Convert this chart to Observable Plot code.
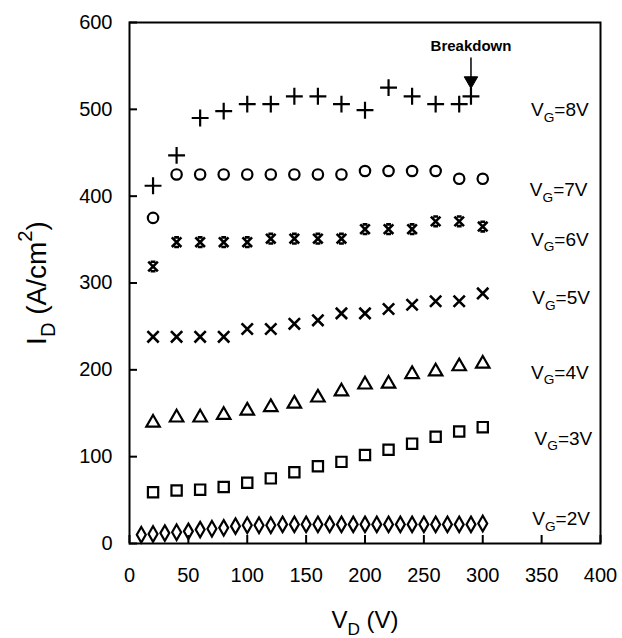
<!DOCTYPE html>
<html>
<head>
<meta charset="utf-8">
<script src="https://cdn.jsdelivr.net/npm/d3@7"></script>
<script src="https://cdn.jsdelivr.net/npm/@observablehq/plot@0.6"></script>
<style>
  body { margin: 0; background: #fff; }
  #chart { width: 622px; height: 638px; }
</style>
</head>
<body>
<div id="chart"></div>
<script>
// ---- data ----
const vd15 = [20, 40, 60, 80, 100, 120, 140, 160, 180, 200, 220, 240, 260, 280, 300];
const vd8  = [20, 40, 60, 80, 100, 120, 140, 160, 180, 200, 220, 240, 260, 280, 290];
const vd2  = [10, 20, 30, 40, 50, 60, 70, 80, 90, 100, 110, 120, 130, 140, 150,
              160, 170, 180, 190, 200, 210, 220, 230, 240, 250, 260, 270, 280, 290, 300];

const id8 = [412, 447, 490, 498, 506, 506, 515, 515, 506, 499, 525, 515, 506, 506, 515];
const id7 = [375, 425, 425, 425, 425, 425, 425, 425, 425, 429, 429, 429, 429, 420, 420];
const id6 = [319, 347, 347, 347, 347, 351, 351, 351, 351, 362, 362, 362, 371, 371, 365];
const id5 = [238, 238, 238, 238, 247, 247, 253, 257, 265, 265, 270, 275, 279, 279, 288];
const id4 = [139, 145, 145, 148, 153, 157, 161, 168, 175, 183, 184, 195, 198, 204, 207];
const id3 = [59, 61, 62, 65, 70, 75, 82, 89, 94, 102, 108, 115, 123, 129, 134];
const id2 = [10, 11, 12, 13, 14, 16, 17, 18, 20, 21, 21, 21, 22, 22, 22,
             22, 22, 22, 22, 22, 22, 22, 22, 22, 22, 22, 22, 22, 22, 23];

const vgLabels = ["V_{G}=8V", "V_{G}=7V", "V_{G}=6V", "V_{G}=5V", "V_{G}=4V", "V_{G}=3V", "V_{G}=2V"];
const vgLabelY = [499, 407, 350, 283, 197, 121, 28];
const vgLabelX = [341, 340, 341, 342, 341, 344, 342];

const xTicks = [0, 50, 100, 150, 200, 250, 300, 350, 400];
const yTicks = [0, 100, 200, 300, 400, 500, 600];

const breakdownText = ["Breakdown"];
const breakdownX = [290];
const breakdownTextY = [573];
const breakdownArrowTop = [559];
const breakdownArrowHead = [533];

const xTitle = "V_{D} (V)";
const yTitle = "I_{D} (A/cm^{2})";

// ---- layout ----
const W = 622, H = 638, ML = 129, MR = 22, MT = 22, MB = 95;
const xDomain = [0, 400], yDomain = [0, 600];
const tickLen = 8; // px
// tick length expressed in data units of each scale
const tickLenX = tickLen * (xDomain[1] - xDomain[0]) / (W - ML - MR);
const tickLenY = tickLen * (yDomain[1] - yDomain[0]) / (H - MT - MB);

// ---- helpers ----
const pts = (xs, ys) => xs.map((x, i) => ({x, y: ys[i]}));
const lab = vgLabels.map((t, i) => ({t, x: vgLabelX[i], y: vgLabelY[i]}));
const bd = breakdownText.map((t, i) => ({t, x: breakdownX[i], ty: breakdownTextY[i], y1: breakdownArrowTop[i], y2: breakdownArrowHead[i]}));
const xTickData = xTicks.map(v => ({v, a: yDomain[0], b: yDomain[0] + tickLenY}));
const yTickData = yTicks.map(v => ({v, a: xDomain[0], b: xDomain[0] + tickLenX}));

// bold X with short horizontal caps (6V marker)
const cappedX = {
  draw(ctx, size) {
    const r = Math.sqrt(size / Math.PI);
    ctx.moveTo(-r, -r); ctx.lineTo(r, r);
    ctx.moveTo(-r, r); ctx.lineTo(r, -r);
    ctx.moveTo(-r * 0.5, -r); ctx.lineTo(r * 0.5, -r);
    ctx.moveTo(-r * 0.5, r); ctx.lineTo(r * 0.5, r);
  }
};

const sw = 2.2;
const font = "'Liberation Sans', Arial, Helvetica, sans-serif";

const chart = Plot.plot({
  width: W,
  height: H,
  marginLeft: ML,
  marginRight: MR,
  marginTop: MT,
  marginBottom: MB,
  style: {fontFamily: font, fontSize: "20px", color: "black", background: "white"},
  x: {domain: xDomain},
  y: {domain: yDomain},
  marks: [
    Plot.frame({stroke: "black", strokeWidth: 2}),
    // tick labels
    Plot.axisX({ticks: xTicks, tickSize: 0, tickPadding: 24, fontSize: 20, label: null}),
    Plot.axisY({ticks: yTicks, tickSize: 0, tickPadding: 17, fontSize: 20, label: null}),
    // inward ticks on bottom and left axes
    Plot.ruleX(xTickData, {x: "v", y1: "a", y2: "b", stroke: "black", strokeWidth: 2}),
    Plot.ruleY(yTickData, {y: "v", x1: "a", x2: "b", stroke: "black", strokeWidth: 2}),
    // axis titles
    Plot.text([xTitle], {frameAnchor: "bottom", textAnchor: "middle", dy: 84, fontSize: 24, text: d => d}),
    Plot.text([yTitle], {frameAnchor: "left", textAnchor: "middle", dx: -92, rotate: -90, fontSize: 28, text: d => d, letterSpacing: "2.2px"}),
    // series
    Plot.dot(pts(vd8, id8), {x: "x", y: "y", symbol: "plus", r: 5.5, stroke: "black", strokeWidth: sw}),
    Plot.dot(pts(vd15, id7), {x: "x", y: "y", symbol: "circle", r: 5.2, fill: "none", stroke: "black", strokeWidth: sw}),
    Plot.dot(pts(vd15, id6), {x: "x", y: "y", symbol: cappedX, r: 4.8, fill: "none", stroke: "black", strokeWidth: 2.6}),
    Plot.dot(pts(vd15, id5), {x: "x", y: "y", symbol: "times", r: 5.2, stroke: "black", strokeWidth: 2.6}),
    Plot.dot(pts(vd15, id4), {x: "x", y: "y", symbol: "triangle", r: 5, fill: "none", stroke: "black", strokeWidth: sw}),
    Plot.dot(pts(vd15, id3), {x: "x", y: "y", symbol: "square", r: 5.8, fill: "none", stroke: "black", strokeWidth: sw}),
    Plot.dot(pts(vd2, id2), {x: "x", y: "y", symbol: "diamond", r: 4.7, fill: "none", stroke: "black", strokeWidth: sw}),
    // series labels
    Plot.text(lab, {x: "x", y: "y", text: "t", textAnchor: "start", fontSize: 19}),
    // breakdown annotation
    Plot.text(bd, {x: "x", y: "ty", text: "t", fontSize: 15, fontWeight: 600}),
    Plot.ruleX(bd, {x: "x", y1: "y1", y2: "y2", stroke: "black", strokeWidth: 1.5}),
    Plot.dot(bd, {x: "x", y: "y2", symbol: "triangle", r: 5, rotate: 180, fill: "black", stroke: "black", strokeWidth: 1})
  ]
});

// render _{..} and ^{..} as sub/superscript tspans
function richify(svg) {
  svg.querySelectorAll("text").forEach(t => {
    const s = t.textContent;
    if (!/[_^]\{/.test(s)) return;
    while (t.firstChild) t.removeChild(t.firstChild);
    const re = /([_^])\{([^}]*)\}/g;
    let last = 0, m, shift = 0;
    const add = (txt, kind) => {
      if (!txt) return;
      const ts = document.createElementNS("http://www.w3.org/2000/svg", "tspan");
      ts.textContent = txt;
      if (kind) {
        ts.setAttribute("font-size", "72%");
        const d = kind === "_" ? 0.3 : -0.5; // in base em
        ts.setAttribute("dy", ((d - shift) / 0.72).toFixed(3) + "em");
        shift = d;
      } else if (shift !== 0) {
        ts.setAttribute("dy", (-shift).toFixed(3) + "em");
        shift = 0;
      }
      t.appendChild(ts);
    };
    while ((m = re.exec(s))) {
      add(s.slice(last, m.index), null);
      add(m[2], m[1]);
      last = re.lastIndex;
    }
    add(s.slice(last), null);
  });
}
richify(chart);
document.getElementById("chart").appendChild(chart);
</script>
</body>
</html>
